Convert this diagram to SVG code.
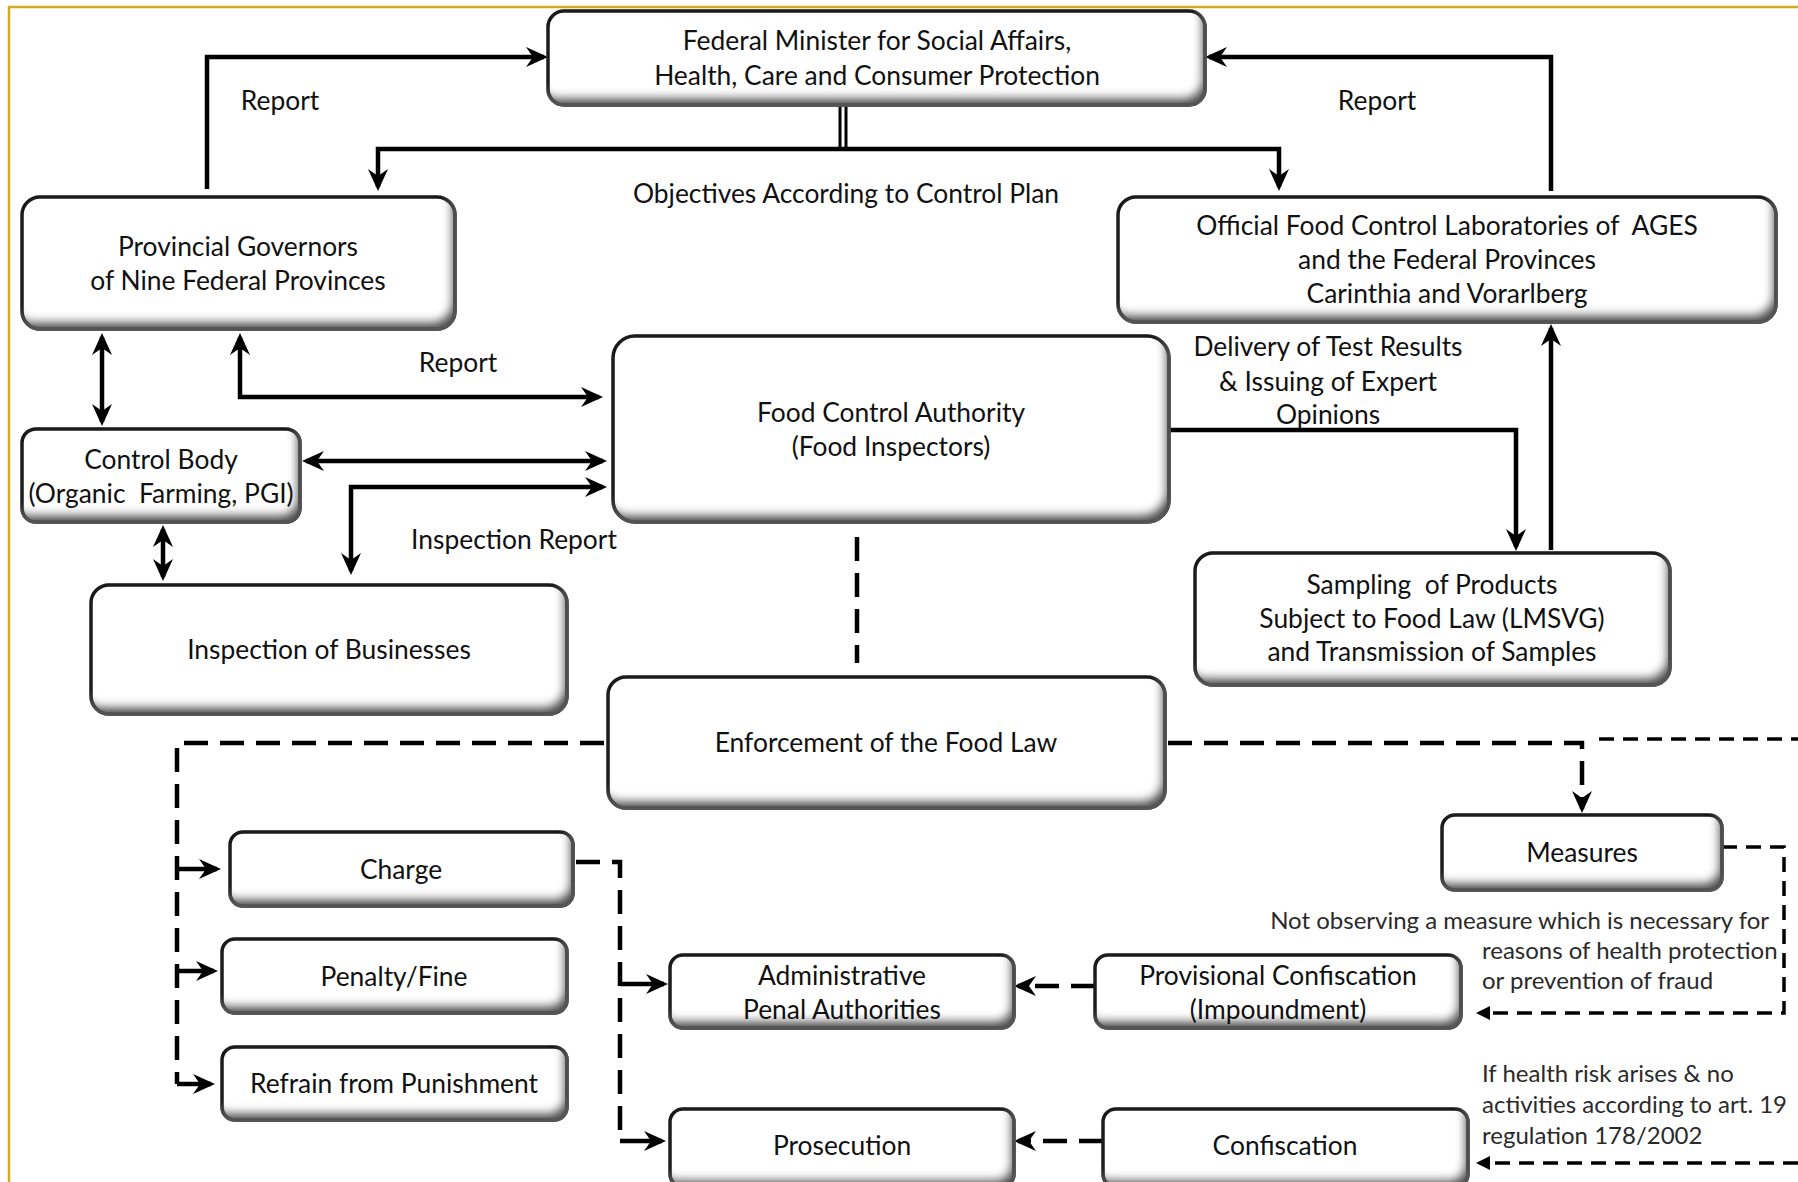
<svg xmlns="http://www.w3.org/2000/svg" width="1798" height="1182" viewBox="0 0 1798 1182">
<style>
.box{fill:#ffffff;stroke:#1a1a1a;stroke-width:3.5;filter:url(#bev)}
.t{font-family:Lato,"Liberation Sans",sans-serif;font-size:26.4px;fill:#111;text-anchor:middle;dominant-baseline:central;white-space:pre}
.lb{font-family:Lato,"Liberation Sans",sans-serif;font-size:26.4px;fill:#111;text-anchor:middle;dominant-baseline:central}
.an{font-family:Lato,"Liberation Sans",sans-serif;font-size:24px;fill:#2a2a2a;dominant-baseline:central}
.s{fill:none;stroke:#000;stroke-width:4.5}
.d{fill:none;stroke:#000;stroke-width:4.5;stroke-dasharray:24 12}
.d2{fill:none;stroke:#000;stroke-width:3.5;stroke-dasharray:15 9}
</style>
<defs>
<filter id="bev" x="-20%" y="-50%" width="140%" height="200%">
<feFlood flood-color="#555555" result="f"/>
<feComposite in="f" in2="SourceAlpha" operator="out" result="o"/>
<feGaussianBlur in="o" stdDeviation="4" result="b"/>
<feOffset in="b" dx="-6" dy="-10" result="of"/>
<feComposite in="of" in2="SourceAlpha" operator="in" result="sh"/>
<feMerge><feMergeNode in="SourceGraphic"/><feMergeNode in="sh"/></feMerge>
</filter>
<marker id="ah" viewBox="0 0 22 20" refX="18" refY="10" markerWidth="22" markerHeight="20" markerUnits="userSpaceOnUse" orient="auto-start-reverse"><path d="M0,0 L22,10 L0,20 L7,10 Z" fill="#000"/></marker>
<marker id="tri" viewBox="0 0 14 14" refX="10" refY="7" markerWidth="14" markerHeight="14" markerUnits="userSpaceOnUse" orient="auto"><path d="M0,0 L14,7 L0,14 Z" fill="#000"/></marker>
</defs>
<rect x="0" y="0" width="1798" height="1182" fill="#fff"/>
<rect x="9" y="7" width="1800" height="1200" fill="none" stroke="#d4aa1e" stroke-width="2.5"/>

<g id="connectors">
<path class="s" d="M207,189 V57 H544" marker-end="url(#ah)"/>
<path class="s" d="M1551,191 V57 H1209" marker-end="url(#ah)"/>
<path fill="none" stroke="#000" stroke-width="3" d="M840,105 V149 M846,105 V149"/>
<path class="s" d="M378,187 V149 H1279 V187" marker-start="url(#ah)" marker-end="url(#ah)"/>
<path class="s" d="M102,337 V422" marker-start="url(#ah)" marker-end="url(#ah)"/>
<path class="s" d="M240,337 V397 H599" marker-start="url(#ah)" marker-end="url(#ah)"/>
<path class="s" d="M306,461 H603" marker-start="url(#ah)" marker-end="url(#ah)"/>
<path class="s" d="M351,571 V487 H603" marker-start="url(#ah)" marker-end="url(#ah)"/>
<path class="s" d="M163,529 V577" marker-start="url(#ah)" marker-end="url(#ah)"/>
<path class="s" d="M1168,430 H1516 V547" marker-end="url(#ah)"/>
<path class="s" d="M1551,550 V328" marker-end="url(#ah)"/>
<path class="d" d="M857,537 V663"/>
<path class="d" d="M604,743 H177 V1084"/>
<path class="s" d="M177,869 H217" marker-end="url(#ah)"/>
<path class="s" d="M177,971 H214" marker-end="url(#ah)"/>
<path class="s" d="M177,1084 H211" marker-end="url(#ah)"/>
<path class="d" d="M576,862 H620 V1141"/>
<path class="s" d="M620,984 H664" marker-end="url(#ah)"/>
<path class="s" d="M620,1141 H662" marker-end="url(#ah)"/>
<path class="d" d="M1168,743 H1582 V809" marker-end="url(#ah)"/>
<path class="d2" d="M1599,739 H1798"/>
<path class="d2" d="M1722,847 H1784 V1013 H1480" marker-end="url(#tri)"/>
<path class="d" d="M1095,986 H1018" marker-end="url(#ah)"/>
<path class="d" d="M1103,1141 H1018" marker-end="url(#ah)"/>
<path class="d2" d="M1798,1163 H1480" marker-end="url(#tri)"/>
<text class="lb" x="280" y="100">Report</text>
<text class="lb" x="1377" y="100">Report</text>
<text class="lb" x="846" y="193">Objectives According to Control Plan</text>
<text class="lb" x="458" y="362">Report</text>
<text class="lb" x="514" y="539">Inspection Report</text>
<text class="lb" x="1328" y="346">Delivery of Test Results</text>
<text class="lb" x="1328" y="381">&amp; Issuing of Expert</text>
<text class="lb" x="1328" y="414">Opinions</text>
<text class="an" x="1769" y="919" text-anchor="end">Not observing a measure which is necessary for</text>
<text class="an" x="1482" y="949">reasons of health protection</text>
<text class="an" x="1482" y="979">or prevention of fraud</text>
<text class="an" x="1482" y="1072">If health risk arises &amp; no</text>
<text class="an" x="1482" y="1103">activities according to art. 19</text>
<text class="an" x="1482" y="1134">regulation 178/2002</text>
</g>

<g id="federal-minister"><rect class="box" x="548" y="11" width="657" height="94" rx="16"/>
<text class="t" x="877" y="40">Federal Minister for Social Affairs,</text><text class="t" x="877" y="75">Health, Care and Consumer Protection</text></g>
<g id="provincial-governors"><rect class="box" x="22" y="197" width="433" height="132" rx="18"/>
<text class="t" x="238" y="246">Provincial Governors</text><text class="t" x="238" y="280">of Nine Federal Provinces</text></g>
<g id="laboratories"><rect class="box" x="1118" y="197" width="658" height="125" rx="18"/>
<text class="t" x="1447" y="225">Official Food Control Laboratories of  AGES</text><text class="t" x="1447" y="259">and the Federal Provinces</text><text class="t" x="1447" y="293">Carinthia and Vorarlberg</text></g>
<g id="food-control-authority"><rect class="box" x="613" y="336" width="556" height="186" rx="22"/>
<text class="t" x="891" y="412">Food Control Authority</text><text class="t" x="891" y="446">(Food Inspectors)</text></g>
<g id="control-body"><rect class="box" x="22" y="429" width="278" height="93" rx="14"/>
<text class="t" x="161" y="459">Control Body</text><text class="t" x="161" y="493">(Organic  Farming, PGI)</text></g>
<g id="inspection-of-businesses"><rect class="box" x="91" y="585" width="476" height="129" rx="18"/>
<text class="t" x="329" y="649">Inspection of Businesses</text></g>
<g id="sampling"><rect class="box" x="1195" y="553" width="475" height="132" rx="18"/>
<text class="t" x="1432" y="584">Sampling  of Products</text><text class="t" x="1432" y="618">Subject to Food Law (LMSVG)</text><text class="t" x="1432" y="651">and Transmission of Samples</text></g>
<g id="enforcement"><rect class="box" x="608" y="677" width="557" height="131" rx="18"/>
<text class="t" x="886" y="742">Enforcement of the Food Law</text></g>
<g id="measures"><rect class="box" x="1442" y="815" width="280" height="75" rx="13"/>
<text class="t" x="1582" y="852">Measures</text></g>
<g id="charge"><rect class="box" x="230" y="832" width="343" height="74" rx="13"/>
<text class="t" x="401" y="869">Charge</text></g>
<g id="penalty-fine"><rect class="box" x="222" y="939" width="345" height="74" rx="13"/>
<text class="t" x="394" y="976">Penalty/Fine</text></g>
<g id="refrain"><rect class="box" x="222" y="1047" width="345" height="73" rx="13"/>
<text class="t" x="394" y="1083">Refrain from Punishment</text></g>
<g id="administrative-penal-authorities"><rect class="box" x="670" y="955" width="344" height="73" rx="13"/>
<text class="t" x="842" y="975">Administrative</text><text class="t" x="842" y="1009">Penal Authorities</text></g>
<g id="provisional-confiscation"><rect class="box" x="1095" y="955" width="366" height="73" rx="13"/>
<text class="t" x="1278" y="975">Provisional Confiscation</text><text class="t" x="1278" y="1009">(Impoundment)</text></g>
<g id="prosecution"><rect class="box" x="670" y="1109" width="344" height="78" rx="13"/>
<text class="t" x="842" y="1145">Prosecution</text></g>
<g id="confiscation"><rect class="box" x="1103" y="1109" width="365" height="78" rx="13"/>
<text class="t" x="1285" y="1145">Confiscation</text></g>
</svg>
